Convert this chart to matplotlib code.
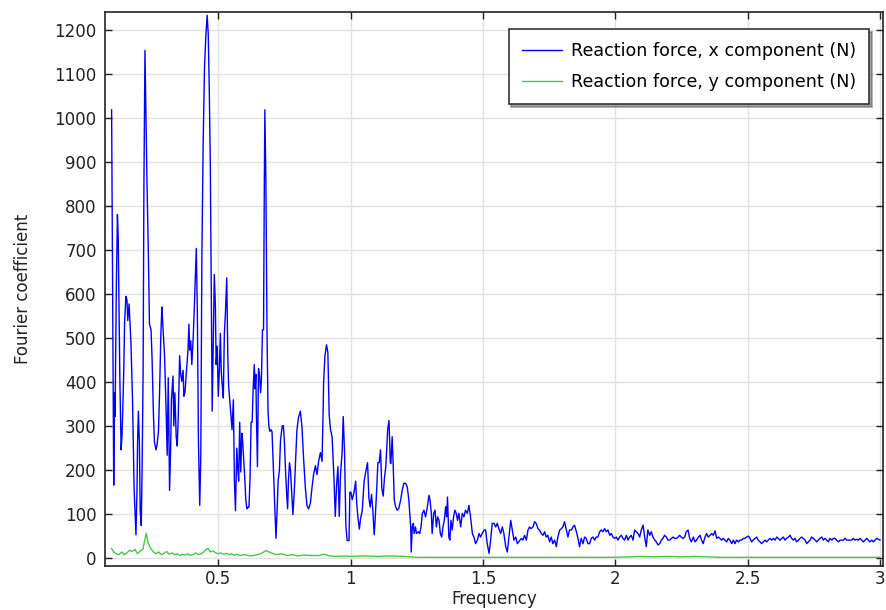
import matplotlib
matplotlib.use("Agg")
from matplotlib import pyplot as plt

# Fourier spectrum of the reaction force components
freq_x = [
    0.097, 0.099, 0.103, 0.105, 0.108, 0.110, 0.115, 0.119, 0.122, 0.124, 0.128, 0.133, 0.136, 0.139,
    0.143, 0.146, 0.151, 0.155, 0.158, 0.163, 0.170, 0.176, 0.182, 0.189, 0.193, 0.195, 0.198, 0.202,
    0.205, 0.209, 0.212, 0.216, 0.219, 0.223, 0.227, 0.231, 0.236, 0.240, 0.246, 0.250, 0.255, 0.259,
    0.265, 0.269, 0.274, 0.278, 0.283, 0.287, 0.290, 0.297, 0.303, 0.307, 0.311, 0.316, 0.320, 0.323,
    0.329, 0.332, 0.336, 0.341, 0.345, 0.349, 0.354, 0.358, 0.362, 0.367, 0.370, 0.374, 0.379, 0.386,
    0.389, 0.392, 0.396, 0.400, 0.405, 0.409, 0.414, 0.417, 0.421, 0.425, 0.430, 0.434, 0.438, 0.443,
    0.448, 0.453, 0.458, 0.462, 0.466, 0.470, 0.473, 0.477, 0.481, 0.485, 0.489, 0.492, 0.496, 0.500,
    0.504, 0.508, 0.511, 0.515, 0.519, 0.523, 0.527, 0.532, 0.536, 0.539, 0.544, 0.548, 0.552, 0.557,
    0.561, 0.565, 0.570, 0.574, 0.577,
    0.581, 0.585, 0.589, 0.592, 0.596, 0.600, 0.604, 0.608, 0.613, 0.616, 0.620, 0.624, 0.628, 0.632,
    0.636, 0.639, 0.642, 0.644, 0.648, 0.652, 0.656, 0.660, 0.663, 0.667, 0.671, 0.674, 0.676, 0.680,
    0.684, 0.688, 0.691, 0.695, 0.699, 0.703, 0.707, 0.710, 0.714, 0.718, 0.722, 0.726, 0.731, 0.735,
    0.739, 0.742, 0.746, 0.750, 0.754, 0.758, 0.762, 0.765, 0.769, 0.773, 0.778, 0.782, 0.787, 0.792,
    0.797, 0.803, 0.810, 0.816, 0.822, 0.829, 0.835, 0.841, 0.848, 0.854, 0.860, 0.867, 0.873, 0.879,
    0.886, 0.892, 0.896, 0.898, 0.903, 0.909, 0.914, 0.919, 0.924, 0.930, 0.937, 0.942, 0.947, 0.952,
    0.957, 0.962, 0.968, 0.972, 0.977, 0.982, 0.987, 0.994, 0.997, 1.001, 1.006, 1.013, 1.019, 1.023,
    1.028, 1.033, 1.038, 1.044, 1.051, 1.057, 1.064, 1.069, 1.074, 1.079, 1.084, 1.089, 1.093, 1.098,
    1.103, 1.108, 1.113, 1.118, 1.123, 1.128, 1.133, 1.140, 1.145, 1.150,
    1.152, 1.157, 1.161, 1.165, 1.170, 1.176, 1.182, 1.189, 1.195, 1.201, 1.208, 1.214, 1.220, 1.227,
    1.229, 1.233, 1.237, 1.240, 1.245, 1.249, 1.256, 1.261, 1.266, 1.271, 1.277, 1.283, 1.290, 1.296,
    1.300, 1.305, 1.308, 1.314, 1.319, 1.324, 1.329, 1.334, 1.339, 1.344, 1.349, 1.354, 1.359, 1.363,
    1.366, 1.371, 1.375, 1.379, 1.384, 1.389, 1.394, 1.399, 1.404, 1.409, 1.416, 1.422, 1.428, 1.434,
    1.441, 1.447, 1.453, 1.460, 1.466, 1.472, 1.479, 1.485, 1.491, 1.497, 1.504, 1.510, 1.516, 1.523,
    1.529, 1.535, 1.542, 1.548, 1.554, 1.560, 1.567, 1.573, 1.579, 1.586, 1.592, 1.598, 1.605, 1.611,
    1.617, 1.624, 1.630,
    1.645, 1.651, 1.657, 1.664, 1.670, 1.676, 1.682, 1.689, 1.695, 1.701, 1.708, 1.714, 1.720, 1.727,
    1.733, 1.739, 1.745, 1.752, 1.758, 1.764, 1.771, 1.777, 1.783, 1.790, 1.796, 1.802, 1.808, 1.815,
    1.821, 1.827, 1.834, 1.840, 1.846, 1.853, 1.859, 1.865, 1.871, 1.878, 1.884, 1.890, 1.897, 1.903,
    1.909, 1.916, 1.922, 1.928, 1.934, 1.941, 1.947, 1.953, 1.960, 1.966, 1.972, 1.979, 1.985, 1.991,
    1.997, 2.004, 2.010, 2.016, 2.023, 2.029, 2.035, 2.042, 2.048, 2.054, 2.060, 2.067, 2.073, 2.079,
    2.086, 2.092, 2.098, 2.105, 2.111, 2.117, 2.123, 2.130, 2.136, 2.142, 2.149, 2.155, 2.161, 2.168,
    2.174, 2.180, 2.186, 2.193, 2.199, 2.205, 2.212, 2.218, 2.224, 2.231, 2.237, 2.243, 2.249, 2.256,
    2.262, 2.268, 2.275, 2.281, 2.287,
    2.295, 2.301, 2.307, 2.314, 2.320, 2.326, 2.332, 2.339, 2.345, 2.351, 2.358, 2.364, 2.370, 2.377,
    2.383, 2.389, 2.395, 2.402, 2.408, 2.414, 2.421, 2.427, 2.433, 2.440, 2.446, 2.452, 2.458, 2.465,
    2.471, 2.477, 2.484, 2.490, 2.496, 2.503, 2.509, 2.515, 2.521, 2.528, 2.534, 2.540, 2.547, 2.553,
    2.559, 2.566, 2.572, 2.578, 2.584, 2.591, 2.597, 2.603, 2.610, 2.616, 2.622, 2.629, 2.635, 2.641,
    2.647, 2.654, 2.660, 2.666, 2.673, 2.679, 2.685, 2.692, 2.698, 2.704, 2.710, 2.717, 2.723, 2.729,
    2.736, 2.742, 2.748, 2.755, 2.761, 2.767, 2.773, 2.780, 2.786, 2.792, 2.799, 2.805, 2.811, 2.818,
    2.824, 2.830, 2.836, 2.843, 2.849, 2.855, 2.862, 2.868, 2.874, 2.881, 2.887, 2.893, 2.899, 2.906,
    2.912, 2.918, 2.925, 2.931, 2.937, 2.944, 2.950, 2.956, 2.962, 2.969, 2.975, 2.981, 2.988, 2.994,
    3.000,
]
force_x = [
    1019, 805, 376, 166, 376, 322, 624, 781, 729, 629, 414, 246, 276, 334,
    427, 536, 595, 587, 540, 578, 490, 360, 158, 53, 158, 259, 334, 263,
    108, 74, 192, 423, 843, 1154, 998, 843, 687, 532, 519, 452, 326, 263,
    246, 259, 288, 372, 507, 571, 536, 460, 334, 234, 410, 154, 250, 360,
    414, 301, 376, 276, 255, 326, 460, 418, 402, 427, 368, 376, 418, 477,
    532, 473, 494, 440, 498, 561, 654, 704, 557, 267, 120, 234, 687, 948,
    1116, 1187, 1234, 1192, 1066, 889, 662, 334, 486, 645, 574, 440, 482, 368,
    427, 511, 427, 393, 364, 511, 557, 637, 460, 393, 355, 326, 292, 360,
    175, 108, 250, 200, 175,
    309, 196, 284, 267, 225, 183, 133, 112, 116, 116, 183, 309, 309, 389,
    440, 385, 418, 326, 208, 431, 414, 376, 406, 519, 519, 851, 1019, 851,
    519, 334, 301, 288, 292, 288, 225, 175, 108, 45, 103, 175, 200, 267,
    288, 301, 301, 263, 200, 150, 112, 175, 217, 200, 141, 99, 150, 220,
    290, 320, 334, 300, 230, 160, 120, 112, 125, 160, 190, 210, 190, 220,
    240, 220, 330, 400, 460, 485, 468, 326, 292, 276, 183, 95, 166, 208,
    95, 192, 242, 322, 242, 74, 40, 40, 150, 150, 133, 150, 175, 124,
    91, 66, 91, 108, 175, 196, 217, 137, 116, 145, 108, 53, 91, 150,
    217, 217, 246, 158, 141, 183, 208, 292, 313, 217,
    215, 276, 208, 132, 117, 109, 113, 132, 155, 170, 170, 162, 132, 71,
    14, 71, 79, 56, 71, 56, 60, 56, 71, 102, 109, 94, 117, 143,
    132, 102, 56, 102, 109, 71, 94, 86, 56, 48, 71, 86, 117, 94,
    139, 48, 41, 86, 64, 94, 109, 102, 86, 102, 71, 102, 94, 109,
    102, 120, 94, 56, 48, 33, 41, 56, 48, 56, 64, 64, 33, 11,
    41, 79, 79, 71, 79, 67, 56, 71, 56, 26, 14, 48, 86, 64,
    41, 48, 33,
    45, 41, 52, 41, 64, 71, 67, 71, 83, 79, 67, 64, 56, 52,
    60, 48, 52, 37, 48, 33, 41, 26, 48, 64, 67, 71, 83, 64,
    48, 64, 64, 71, 75, 60, 45, 26, 45, 33, 48, 45, 33, 33,
    45, 48, 41, 48, 48, 60, 64, 60, 67, 60, 64, 52, 56, 48,
    45, 48, 41, 48, 52, 45, 41, 52, 41, 48, 52, 41, 64, 60,
    56, 48, 64, 75, 48, 26, 64, 52, 60, 48, 41, 37, 30, 33,
    41, 45, 52, 48, 41, 41, 45, 48, 45, 45, 48, 52, 48, 45,
    48, 60, 64, 45, 37,
    48, 37, 41, 48, 52, 41, 33, 48, 56, 48, 52, 56, 52, 62,
    45, 48, 45, 41, 45, 41, 37, 45, 41, 33, 41, 33, 41, 37,
    41, 41, 45, 45, 48, 50, 45, 37, 41, 45, 48, 41, 37, 33,
    37, 41, 37, 41, 45, 41, 45, 41, 48, 45, 41, 45, 48, 41,
    45, 48, 52, 45, 41, 45, 37, 41, 45, 48, 45, 41, 33, 37,
    41, 48, 45, 41, 37, 41, 45, 48, 41, 45, 41, 37, 45, 41,
    45, 45, 41, 37, 41, 41, 41, 45, 41, 41, 41, 41, 45, 41,
    43, 41, 45, 41, 37, 41, 45, 41, 37, 41, 37, 41, 45, 43,
    41,
]

freq_y = [
    0.097, 0.105, 0.115, 0.125, 0.135, 0.145, 0.155, 0.165, 0.175, 0.185, 0.195, 0.205, 0.215, 0.222,
    0.228, 0.235, 0.245, 0.255, 0.265, 0.275, 0.285, 0.295, 0.305, 0.315, 0.325, 0.335, 0.345, 0.355,
    0.365, 0.375, 0.385, 0.395, 0.405, 0.415, 0.425, 0.435, 0.445, 0.455, 0.462, 0.470, 0.480, 0.490,
    0.500, 0.510, 0.520, 0.530, 0.540, 0.550, 0.560, 0.570, 0.580, 0.600, 0.620, 0.640, 0.660, 0.680,
    0.700, 0.720, 0.740, 0.760, 0.780, 0.800, 0.820, 0.850, 0.880, 0.900, 0.920, 0.950, 0.980, 1.000,
    1.050, 1.100, 1.150, 1.200, 1.220, 1.250, 1.400, 1.600, 1.800, 2.000, 2.050, 2.100, 2.150, 2.200,
    2.250, 2.300, 2.350, 2.400, 2.600, 2.800, 3.000,
]
force_y = [
    22, 14, 10, 8, 14, 8, 12, 18, 15, 20, 10, 16, 20, 40,
    57, 35, 22, 14, 10, 14, 8, 11, 15, 9, 12, 8, 10, 6,
    9, 7, 10, 6, 8, 12, 8, 10, 14, 20, 22, 14, 17, 12,
    10, 12, 9, 11, 8, 10, 7, 9, 6, 8, 5, 7, 10, 17,
    12, 8, 10, 6, 8, 5, 7, 6, 6, 9, 5, 4, 5, 4,
    5, 4, 5, 4, 3, 2, 2, 2, 2, 2, 3, 4, 3, 4,
    3, 4, 3, 2, 2, 2, 2,
]

plt.rcParams['font.family'] = 'DejaVu Sans'
fig = plt.figure(figsize=(8.86, 6.10), dpi=100)
ax = fig.add_axes([0.1185, 0.072, 0.878, 0.908])

ax.plot(freq_x, force_x, color='#0000ff', linewidth=1.0, label='Reaction force, x component (N)')
ax.plot(freq_y, force_y, color='#46c846', linewidth=1.0, label='Reaction force, y component (N)')

ax.set_xlim(0.072, 3.011)
ax.set_ylim(-18, 1241)
ax.set_xticks([0.5, 1, 1.5, 2, 2.5, 3])
ax.set_xticklabels(['0.5', '1', '1.5', '2', '2.5', '3'])
ax.set_yticks(range(0, 1201, 100))

ax.grid(True, color='#e2e2e2', linewidth=1.0)
ax.set_axisbelow(True)
ax.tick_params(direction='in', length=5, width=1, top=True, right=True,
               labelsize=12, colors='#222222', labelcolor='#222222')
ax.tick_params(axis='y', pad=6)
ax.tick_params(axis='x', pad=3)
for s in ax.spines.values():
    s.set_linewidth(1.2)
    s.set_color('#222222')

ax.set_xlabel('Frequency', fontsize=12, color='#222222', labelpad=1)
ax.set_ylabel('Fourier coefficient', fontsize=12, color='#222222', labelpad=16)

leg = ax.legend(loc='upper right', bbox_to_anchor=(0.982, 0.969), borderaxespad=0,
                fontsize=12.6, frameon=True, fancybox=False, shadow=True, framealpha=1,
                edgecolor='#333333', handlelength=2.3, handletextpad=0.5,
                borderpad=0.75, labelspacing=0.7)
leg.get_frame().set_linewidth(1.2)

fig.savefig('out.png', dpi=100, facecolor='white')
